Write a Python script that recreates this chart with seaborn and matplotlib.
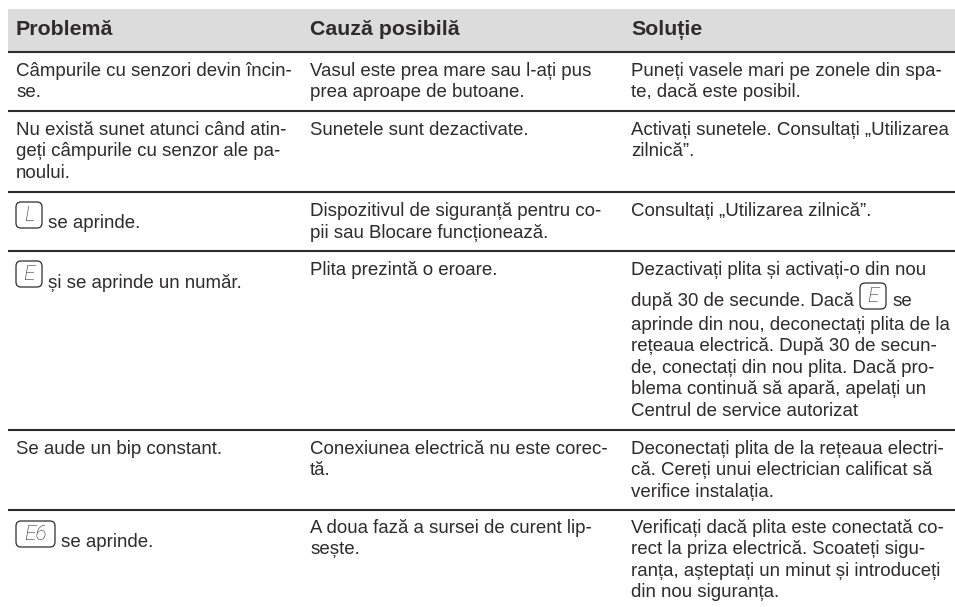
import matplotlib
matplotlib.use("Agg")
import matplotlib.pyplot as plt
from matplotlib.patches import FancyBboxPatch, Rectangle
import seaborn as sns

sns.set_theme(style="white")
plt.rcParams["font.family"] = ["Liberation Sans", "DejaVu Sans"]
plt.rcParams["text.hinting"] = "default"

# --- table content -------------------------------------------------------
headers = ["Problemă", "Cauză posibilă", "Soluție"]
col_problem = [
    ["Câmpurile cu senzori devin încin-", "se."],
    ["Nu există sunet atunci când atin-", "geți câmpurile cu senzor ale pa-", "noului."],
    [],
    [],
    ["Se aude un bip constant."],
    [],
]
col_cause = [
    ["Vasul este prea mare sau l-ați pus", "prea aproape de butoane."],
    ["Sunetele sunt dezactivate."],
    ["Dispozitivul de siguranță pentru co-", "pii sau Blocare funcționează."],
    ["Plita prezintă o eroare."],
    ["Conexiunea electrică nu este corec-", "tă."],
    ["A doua fază a sursei de curent lip-", "sește."],
]
col_solution = [
    ["Puneți vasele mari pe zonele din spa-", "te, dacă este posibil."],
    ["Activați sunetele. Consultați „Utilizarea", "zilnică”."],
    ["Consultați „Utilizarea zilnică”."],
    [],
    ["Deconectați plita de la rețeaua electri-", "că. Cereți unui electrician calificat să", "verifice instalația."],
    ["Verificați dacă plita este conectată co-", "rect la priza electrică. Scoateți sigu-", "ranța, așteptați un minut și introduceți", "din nou siguranța."],
]
icon_rows = [("L", "se aprinde."), ("E", "și se aprinde un număr."), ("E6", "se aprinde.")]
long_solution = ["Dezactivați plita și activați-o din nou", "după 30 de secunde. Dacă", "se",
                 "aprinde din nou, deconectați plita de la", "rețeaua electrică. După 30 de secun-",
                 "de, conectați din nou plita. Dacă pro-", "blema continuă să apară, apelați un",
                 "Centrul de service autorizat"]

# --- layout (pixels) -----------------------------------------------------
W, H = 955, 607
INK = "#2e2c2d"
FS = 13.4
STEP = 21.4
col_x = [16, 310, 631]
rules = [52, 111, 192, 251, 430, 510]
row_first = [76, 135, 216.5, 275, 454, 533]

fig = plt.figure(figsize=(W / 100, H / 100), dpi=100)
ax = fig.add_axes([0, 0, 1, 1])
ax.set_xlim(0, W)
ax.set_ylim(H, 0)
ax.axis("off")
sns.despine(ax=ax, left=True, bottom=True)

ax.add_patch(Rectangle((8, 9), 947, 42.5, fc="#dcdcdc", ec="none"))
for r in rules:
    ax.plot([8, 955], [r, r], color="#2e2c2d", lw=1.5, solid_capstyle="butt")

for x, h in zip(col_x, headers):
    ax.text(x, 35, h, fontsize=15.4, fontweight="bold", color=INK, va="baseline")

def block(x, y, lines):
    for i, s in enumerate(lines):
        ax.text(x, y + i * STEP, s, fontsize=FS, color=INK, va="baseline")

for col, x in zip([col_problem, col_cause, col_solution], col_x):
    for y, lines in zip(row_first, col):
        block(x, y, lines)

def icon(x, y, w, label):
    ax.add_patch(FancyBboxPatch((x + 3, y + 3), w - 6, 20, boxstyle="round,pad=3,rounding_size=5",
                                fc="white", ec=INK, lw=0.9))
    ax.text(x + w / 2, y + 13.5, label, fontsize=15, fontfamily="Roboto", fontweight="light",
            fontstyle="italic", color=INK, ha="center", va="center")

icon(16, 202, 26, icon_rows[0][0])
ax.text(48, 228, icon_rows[0][1], fontsize=FS, color=INK)
icon(16, 261, 26, icon_rows[1][0])
ax.text(48, 288, icon_rows[1][1], fontsize=FS, color=INK)
icon(16, 521, 39, icon_rows[2][0])
ax.text(61, 547, icon_rows[2][1], fontsize=FS, color=INK)

ax.text(631, 275, long_solution[0], fontsize=FS, color=INK)
ax.text(631, 306, long_solution[1], fontsize=FS, color=INK)
icon(860, 283, 26, "E")
ax.text(892, 306, long_solution[2], fontsize=FS, color=INK)
block(631, 330, long_solution[3:])

fig.savefig("out.png", dpi=100)
